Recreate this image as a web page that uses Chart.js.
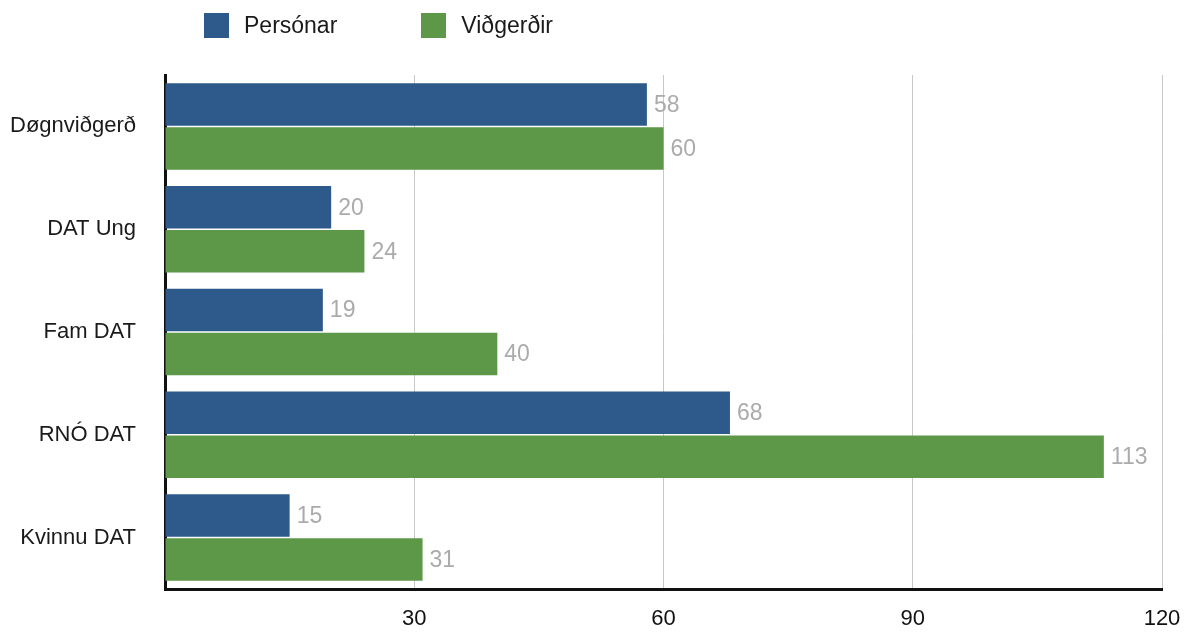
<!DOCTYPE html>
<html>
<head>
<meta charset="utf-8">
<script src="https://cdn.jsdelivr.net/npm/chart.js@4.4.0/dist/chart.umd.min.js"></script>
<style>
  body { margin: 0; background: #fff; font-family: "Liberation Sans", Arial, sans-serif; }
  #wrap { position: relative; width: 1199px; height: 633px; }
  #legend { position: absolute; left: 204px; top: 12px; display: flex; font-size: 23px; color: #1a1a1a; }
  .item { display: flex; align-items: center; margin-right: 84px; }
  .box { width: 25px; height: 25px; margin-right: 15px; }
</style>
</head>
<body>
<div id="wrap">
  <div id="legend"></div>
  <canvas id="chart" width="1199" height="633"></canvas>
</div>
<script>
const categories = ['Døgnviðgerð', 'DAT Ung', 'Fam DAT', 'RNÓ DAT', 'Kvinnu DAT'];
const personar = [58, 20, 19, 68, 15];
const vidgerdir = [60, 24, 40, 113, 31];
const seriesNames = ['Persónar', 'Viðgerðir'];
const xTicks = [30, 60, 90, 120];

const colors = ['#2e5a8b', '#5d9748'];

// legend (html)
const legend = document.getElementById('legend');
seriesNames.forEach((name, i) => {
  const item = document.createElement('div');
  item.className = 'item';
  item.innerHTML = `<div class="box" style="background:${colors[i]}"></div><span>${name}</span>`;
  legend.appendChild(item);
});

// value labels at bar ends
const valueLabels = {
  id: 'valueLabels',
  afterDatasetsDraw(chart) {
    const ctx = chart.ctx;
    ctx.save();
    ctx.font = '23px "Liberation Sans", Arial, sans-serif';
    ctx.fillStyle = '#ababab';
    ctx.textAlign = 'left';
    ctx.textBaseline = 'middle';
    chart.data.datasets.forEach((ds, di) => {
      chart.getDatasetMeta(di).data.forEach((bar, i) => {
        ctx.fillText(ds.data[i], bar.x + 7, bar.y + 1);
      });
    });
    ctx.restore();
  }
};

new Chart(document.getElementById('chart'), {
  type: 'bar',
  data: {
    labels: categories,
    datasets: [
      { label: seriesNames[0], data: personar, backgroundColor: colors[0] },
      { label: seriesNames[1], data: vidgerdir, backgroundColor: colors[1] }
    ]
  },
  options: {
    indexAxis: 'y',
    responsive: false,
    animation: false,
    categoryPercentage: 0.856,
    barPercentage: 0.965,
    layout: { padding: { top: 75, right: 37, left: 0, bottom: 0 } },
    plugins: {
      legend: { display: false },
      tooltip: { enabled: false }
    },
    scales: {
      x: {
        min: 0,
        max: 120,
        afterBuildTicks: (scale) => { scale.ticks = [0].concat(xTicks).map(v => ({ value: v })); },
        afterFit: (scale) => { scale.height = 44; },
        border: { color: '#111', width: 3 },
        grid: {
          color: (c) => c.tick && c.tick.value === 0 ? 'rgba(0,0,0,0)' : '#c8c8c8',
          lineWidth: 1,
          drawTicks: false
        },
        ticks: {
          padding: 17,
          color: '#111',
          font: { family: '"Liberation Sans", Arial, sans-serif', size: 22 },
          callback: (v) => v === 0 ? '' : v
        }
      },
      y: {
        afterFit: (scale) => { scale.width = 165; },
        border: { color: '#111', width: 3 },
        grid: { display: false, drawTicks: false },
        ticks: {
          padding: 29,
          color: '#1a1a1a',
          font: { family: '"Liberation Sans", Arial, sans-serif', size: 22 }
        }
      }
    }
  },
  plugins: [valueLabels]
});
</script>
</body>
</html>
